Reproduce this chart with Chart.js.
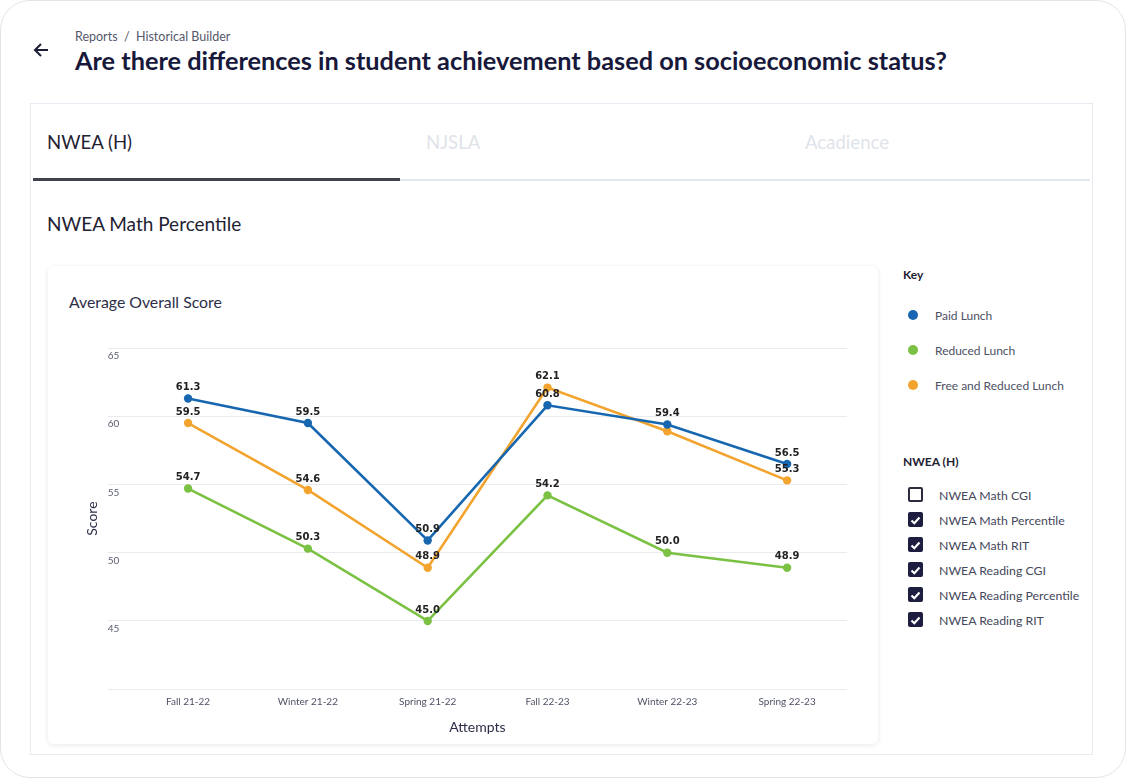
<!DOCTYPE html>
<html>
<head>
<meta charset="utf-8">
<script src="https://cdn.jsdelivr.net/npm/chart.js@4.4.1/dist/chart.umd.min.js"></script>
<style>
  body { margin: 0; background: #fff; font-family: Lato, "Open Sans", sans-serif; }
  .frame { position: absolute; left: 0; top: 0; width: 1124px; height: 776px; border: 1px solid #e2e4e8; border-radius: 30px; }
  .abs { position: absolute; white-space: nowrap; }
  .crumb { left: 75px; top: 29px; font-size: 12.5px; line-height: 16px; color: #55586b; }
  .title { left: 75px; top: 44px; font-size: 25.3px; line-height: 32px; font-weight: 700; color: #17183a; }
  .panel { position: absolute; left: 30px; top: 103px; width: 1061px; height: 650px; border: 1.5px solid #e6ebf2; background: #fff; }
  .tab { top: 130px; font-size: 18.6px; line-height: 24px; }
  .tab-bar { position: absolute; left: 33px; top: 178px; width: 367px; height: 3px; background: #40424e; }
  .tab-line { position: absolute; left: 400px; top: 179px; width: 690px; height: 2px; background: #e4e8ef; }
  .sub { left: 47px; top: 212px; font-size: 19px; line-height: 24px; color: #1f2233; }
  .card { position: absolute; left: 48px; top: 266px; width: 830px; height: 478px; background: #fff; border-radius: 6px; box-shadow: 0 1px 5px rgba(20, 30, 60, 0.10); }
  .card-title { left: 69px; top: 292px; font-size: 15.8px; line-height: 20px; color: #2c2e48; }
  .chart-box { position: absolute; left: 60px; top: 320px; width: 800px; height: 425px; }
  .side-head { left: 903px; font-size: 12px; line-height: 16px; font-weight: 700; color: #1f2233; }
  .key-dot { position: absolute; left: 908px; width: 10px; height: 10px; border-radius: 50%; }
  .key-text { left: 935px; font-size: 12px; line-height: 16px; color: #4d5063; }
  .cb { position: absolute; left: 908px; width: 15px; height: 15px; box-sizing: border-box; border-radius: 2px; }
  .cb.on { background: #1d1e3f; }
  .cb.off { border: 2px solid #2b2c40; background: #fff; }
  .cb-text { left: 939px; font-size: 12.3px; line-height: 16px; color: #45485b; }
</style>
</head>
<body>
<div class="frame"></div>
<svg class="abs" style="left:33px;top:42px" width="16" height="16" viewBox="0 0 16 16">
  <path d="M15 8H2M8 2L2 8L8 14" fill="none" stroke="#1c1d36" stroke-width="2"/>
</svg>
<div class="abs crumb">Reports&nbsp; /&nbsp; Historical Builder</div>
<div class="abs title">Are there differences in student achievement based on socioeconomic status?</div>

<div class="panel"></div>
<div class="abs tab" style="left:47px;color:#1f2233">NWEA (H)</div>
<div class="abs tab" style="left:426px;color:#dfe3ea">NJSLA</div>
<div class="abs tab" style="left:805px;color:#dfe3ea">Acadience</div>
<div class="tab-bar"></div>
<div class="tab-line"></div>
<div class="abs sub">NWEA Math Percentile</div>

<div class="card"></div>
<div class="abs card-title">Average Overall Score</div>
<div class="chart-box"><canvas id="scoreChart"></canvas></div>

<div class="abs side-head" style="top:267px">Key</div>
<div id="keyList"></div>
<div class="abs side-head" style="top:454px">NWEA (H)</div>
<div id="checkList"></div>

<script>
// chart data
const categories = ['Fall 21-22', 'Winter 21-22', 'Spring 21-22', 'Fall 22-23', 'Winter 22-23', 'Spring 22-23'];
const paidLunch = [61.3, 59.5, 50.9, 60.8, 59.4, 56.5];
const reducedLunch = [54.7, 50.3, 45.0, 54.2, 50.0, 48.9];
const freeReducedLunch = [59.5, 54.6, 48.9, 62.1, 58.9, 55.3];
const seriesNames = ['Paid Lunch', 'Reduced Lunch', 'Free and Reduced Lunch'];
const seriesColors = ['#1767b0', '#7bc143', '#f2a42f'];
const yTicks = [40, 45, 50, 55, 60, 65];
const measures = ['NWEA Math CGI', 'NWEA Math Percentile', 'NWEA Math RIT', 'NWEA Reading CGI', 'NWEA Reading Percentile', 'NWEA Reading RIT'];
const measureChecked = [false, true, true, true, true, true];

// side key + checkboxes
const keyList = document.getElementById('keyList');
seriesNames.forEach(function(name, i) {
    const top = 315 + i * 35;
    keyList.insertAdjacentHTML('beforeend',
        '<div class="key-dot" style="top:' + (top - 5) + 'px;background:' + seriesColors[i] + '"></div>' +
        '<div class="abs key-text" style="top:' + (top - 7) + 'px">' + name + '</div>');
});
const checkList = document.getElementById('checkList');
measures.forEach(function(name, i) {
    const top = 495 + i * 25;
    const tick = measureChecked[i]
        ? '<svg width="15" height="15" viewBox="0 0 15 15"><path d="M3.5 7.5L6.3 10.2L11.5 4.6" fill="none" stroke="#fff" stroke-width="2.2"/></svg>'
        : '';
    checkList.insertAdjacentHTML('beforeend',
        '<div class="cb ' + (measureChecked[i] ? 'on' : 'off') + '" style="top:' + (top - 8) + 'px">' + tick + '</div>' +
        '<div class="abs cb-text" style="top:' + (top - 7) + 'px">' + name + '</div>');
});

// value labels above each point, skipping ones that would collide
const pointLabels = {
    id: 'pointLabels',
    afterDatasetsDraw(chart) {
        const ctx = chart.ctx;
        const boxes = [];
        ctx.save();
        ctx.font = 'bold 10px "DejaVu Sans"';
        ctx.fillStyle = '#222';
        ctx.textAlign = 'center';
        ctx.textBaseline = 'middle';
        chart.data.datasets.forEach(function(ds, di) {
            chart.getDatasetMeta(di).data.forEach(function(pt, i) {
                const text = ds.data[i].y.toFixed(1);
                const w = ctx.measureText(text).width;
                const box = { x: pt.x - w / 2, y: pt.y - 17, w: w, h: 11 };
                const hit = boxes.some(b => box.x < b.x + b.w && b.x < box.x + box.w && box.y < b.y + b.h && b.y < box.y + box.h);
                if (hit) return;
                boxes.push(box);
                ctx.fillText(text, pt.x, pt.y - 11);
            });
        });
        ctx.restore();
    }
};

Chart.defaults.font.family = 'Lato';

const toPoints = arr => arr.map((v, i) => ({ x: i, y: v }));
const seriesData = [paidLunch, reducedLunch, freeReducedLunch];

new Chart(document.getElementById('scoreChart').getContext('2d'), {
    type: 'line',
    data: {
        datasets: seriesData.map(function(values, i) {
            return {
                label: seriesNames[i],
                data: toPoints(values),
                borderColor: seriesColors[i],
                backgroundColor: seriesColors[i],
                borderWidth: 2.6,
                pointRadius: 4.2,
                pointBorderWidth: 0,
                pointHoverRadius: 4.2,
                tension: 0
            };
        })
    },
    options: {
        responsive: true,
        maintainAspectRatio: false,
        animation: false,
        layout: { padding: { left: 22, right: 13, top: 28, bottom: 5 } },
        plugins: {
            legend: { display: false },
            tooltip: { enabled: false }
        },
        scales: {
            x: {
                type: 'linear',
                min: -0.67,
                max: 5.5,
                afterBuildTicks: axis => { axis.ticks = categories.map((c, i) => ({ value: i })); },
                grid: { display: false, drawTicks: false },
                border: { display: false },
                ticks: {
                    autoSkip: false,
                    maxRotation: 0,
                    padding: 7,
                    color: '#4f5266',
                    font: { size: 10 },
                    callback: v => categories[v]
                },
                title: { display: true, text: 'Attempts', color: '#2c2e48', font: { size: 14 }, padding: { top: 4, bottom: 4 } }
            },
            y: {
                min: 40,
                max: 65,
                afterBuildTicks: axis => { axis.ticks = yTicks.map(v => ({ value: v })); },
                grid: { color: '#eaebee', drawTicks: false },
                border: { display: false },
                ticks: {
                    mirror: true,
                    padding: 0,
                    labelOffset: 8,
                    color: '#5a5d70',
                    font: { size: 10 },
                    callback: v => (v === 40 ? '' : v)
                },
                title: { display: true, text: 'Score', color: '#2c2e48', font: { size: 14 }, padding: { top: 2, bottom: 7 } }
            }
        }
    },
    plugins: [pointLabels]
});
</script>
</body>
</html>
